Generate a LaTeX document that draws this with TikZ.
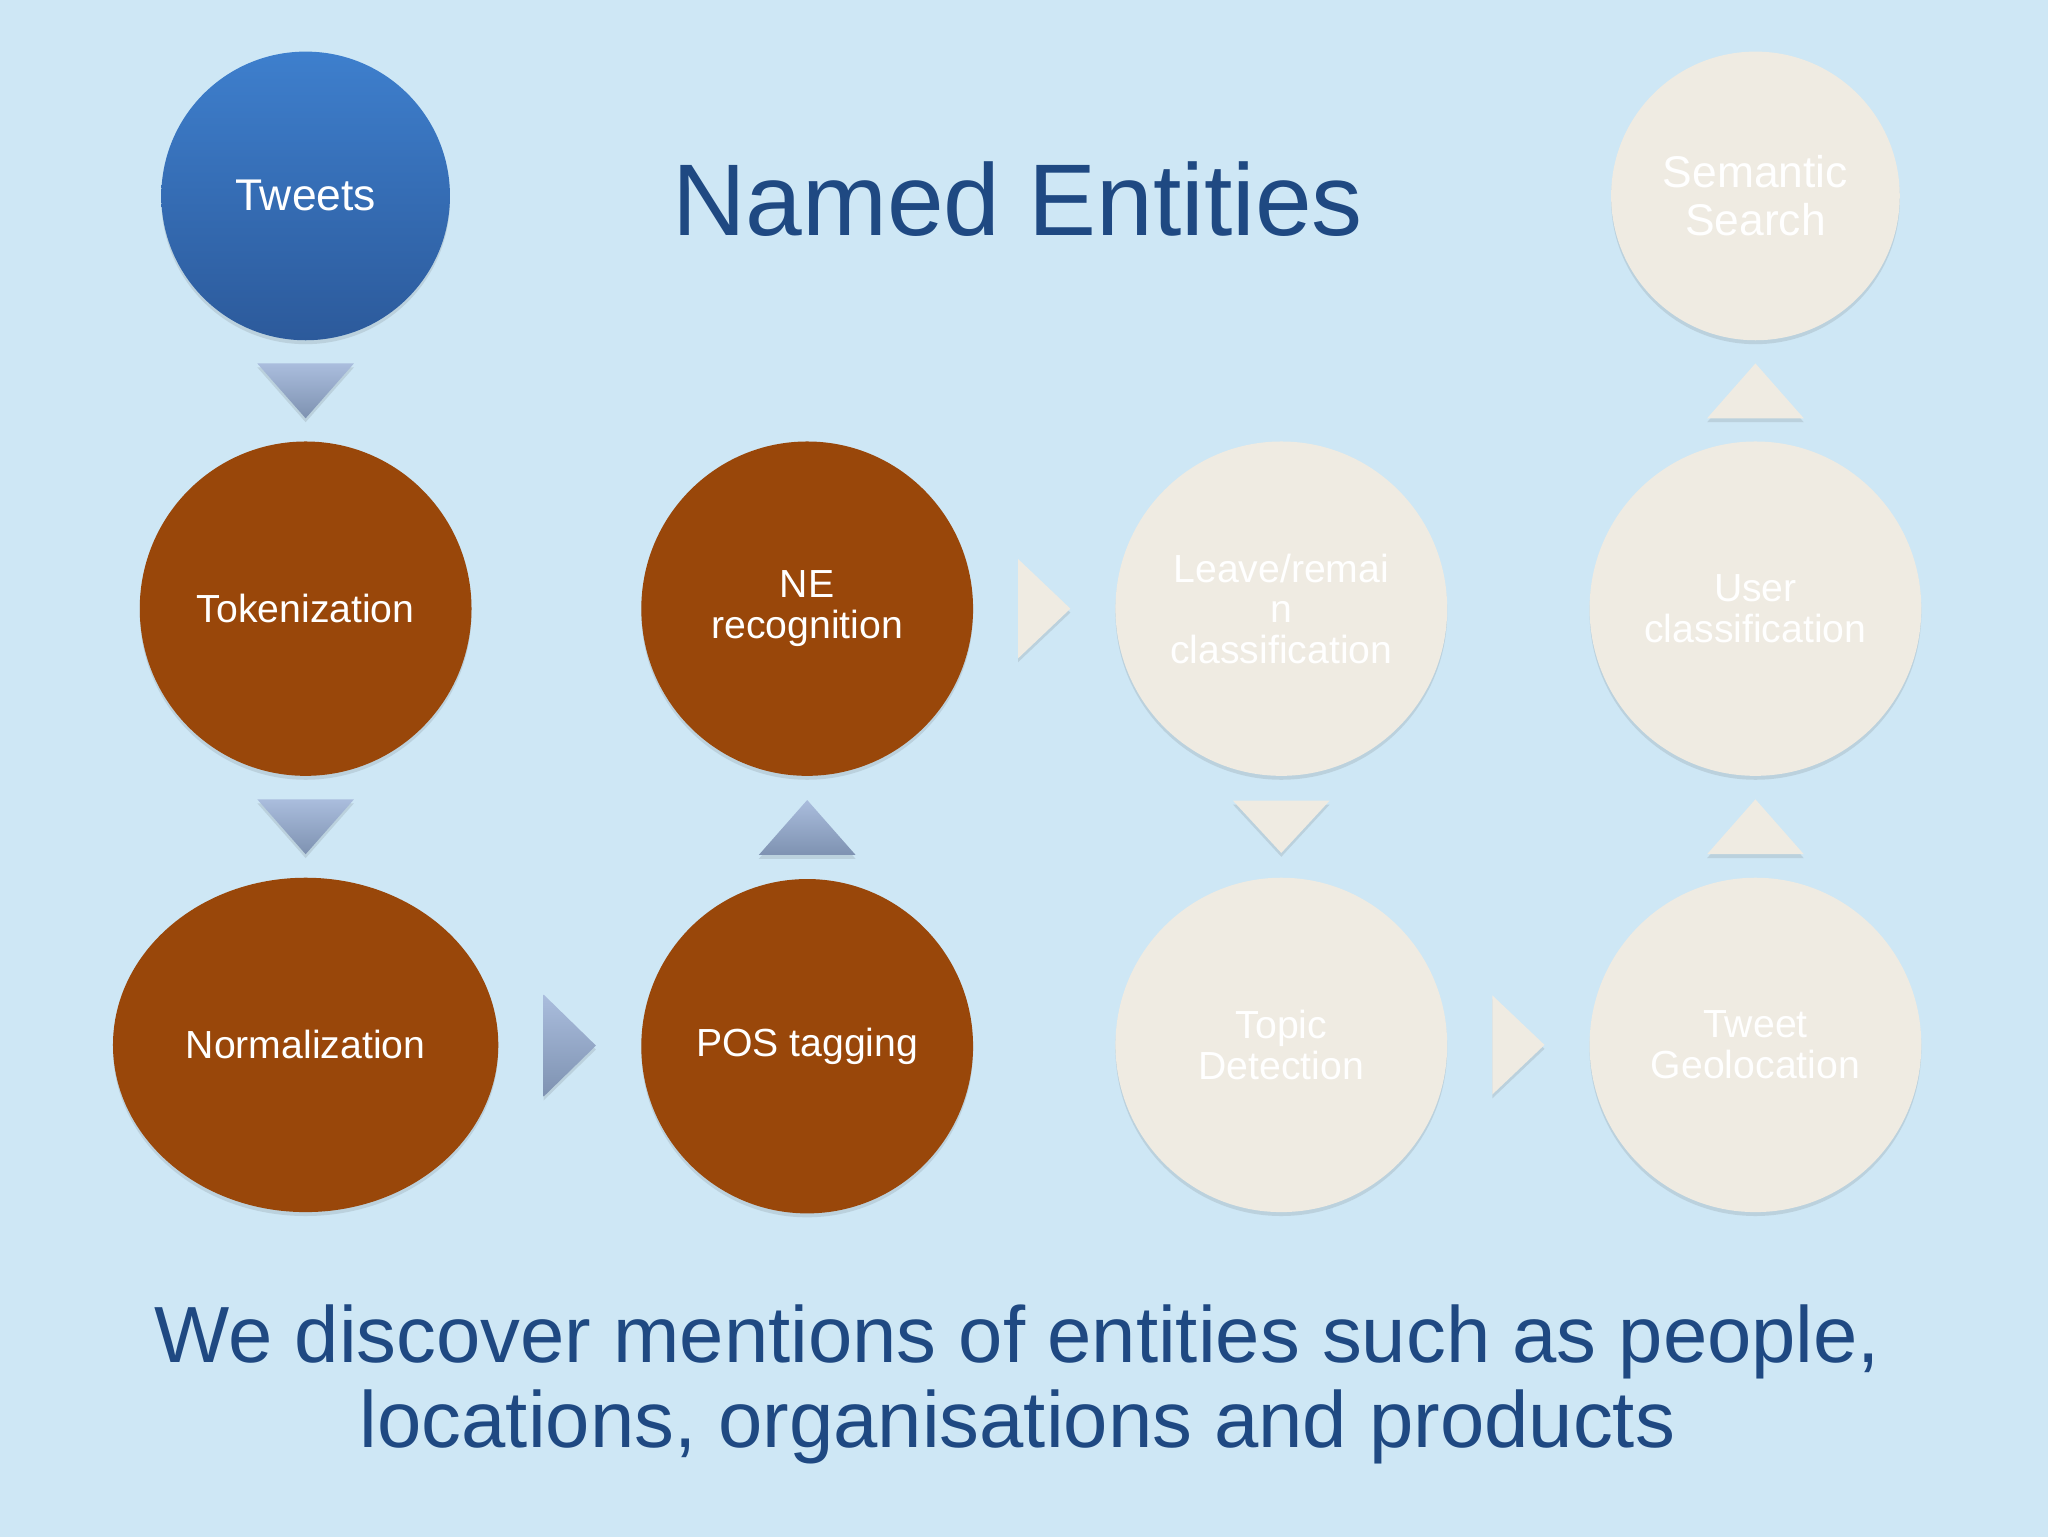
\documentclass[tikz,border=0pt]{standalone}
\usepackage{fontspec}
\setmainfont{Liberation Sans}
\usetikzlibrary{shapes.geometric,shadows,calc}
\definecolor{bg}{RGB}{206,231,245}
\definecolor{brownfill}{RGB}{153,71,10}
\definecolor{creamfill}{RGB}{239,235,226}
\definecolor{arrtop}{RGB}{170,189,221}
\definecolor{arrbot}{RGB}{126,146,177}
\definecolor{tweettop}{RGB}{62,127,205}
\definecolor{tweetbot}{RGB}{44,90,155}
\definecolor{titleblue}{RGB}{31,73,130}
\tikzset{
  x=1pt, y=-1pt,
  softshadow/.style={drop shadow={shadow xshift=0pt, shadow yshift=-3pt, opacity=0.14, fill=black!70}},
  bubble/.style={ellipse, inner sep=0pt, align=center, text=white, softshadow},
  topbubble/.style={bubble, minimum width=221, minimum height=221,
     font=\fontsize{34}{37}\selectfont},
  midbubble/.style={bubble, minimum width=254, minimum height=256,
     font=\fontsize{30}{31}\selectfont},
  brownb/.style={fill=brownfill},
  creamb/.style={fill=creamfill},
  bluearr/.style={top color=arrtop, bottom color=arrbot, draw=none, softshadow},
  creamarr/.style={fill=creamfill, draw=none, softshadow},
}
\begin{document}
\begin{tikzpicture}
\useasboundingbox (0,0) rectangle (1568,1176);
\fill[bg] (-6,-6) rectangle (1574,1182);

% nodes
\node[topbubble, top color=tweettop, bottom color=tweetbot] (tweets) at (234,150) {Tweets};
\node[midbubble, brownb] (tok) at (234,466) {Tokenization};
\node[midbubble, brownb, minimum width=295] (norm) at (234,800) {Normalization};
\node[midbubble, brownb] (pos) at (618,801) {POS tagging};
\node[midbubble, brownb] (ner) at (618,466) {NE\\recognition};
\node[midbubble, creamb] (leave) at (981,466) {Leave/remai\\n\\classification};
\node[midbubble, creamb] (topic) at (981,800) {Topic\\Detection};
\node[midbubble, creamb] (geo) at (1344,800) {Tweet\\Geolocation};
\node[midbubble, creamb] (user) at (1344,466) {User\\classification};
\node[topbubble, creamb] (sem) at (1344,150) {Semantic\\Search};

% title and caption
\node[anchor=base, text=titleblue, font=\fontsize{78}{80}\selectfont] (title) at (779,180) {Named Entities};
\node[align=center, text=titleblue, font=\fontsize{61}{65}\selectfont] (caption) at (779,1060)
  {We discover mentions of entities such as people,\\locations, organisations and products};

% arrow markers between nodes
\coordinate (a1) at ($(tweets.south)!0.5!(tok.north)$);
\coordinate (a2) at ($(tok.south)!0.5!(norm.north)$);
\coordinate (a3) at ($(norm.east)!0.5!(pos.west)$);
\coordinate (a4) at ($(pos.north)!0.5!(ner.south)$);
\coordinate (a5) at ($(ner.east)!0.5!(leave.west)$);
\coordinate (a6) at ($(leave.south)!0.5!(topic.north)$);
\coordinate (a7) at ($(topic.east)!0.5!(geo.west)$);
\coordinate (a8) at ($(geo.north)!0.5!(user.south)$);
\coordinate (a9) at ($(user.north)!0.5!(sem.south)$);

% down (blue)
\path[bluearr] ($(a1)+(-37,-21)$) -- ($(a1)+(37,-21)$) -- ($(a1)+(0,21)$) -- cycle;
\path[bluearr] ($(a2)+(-37,-21)$) -- ($(a2)+(37,-21)$) -- ($(a2)+(0,21)$) -- cycle;
% right (blue)
\path[bluearr] ($(a3)+(-20,-39)$) -- ($(a3)+(20,0)$) -- ($(a3)+(-20,39)$) -- cycle;
% up (blue)
\path[bluearr] ($(a4)+(-37,21)$) -- ($(a4)+(37,21)$) -- ($(a4)+(0,-21)$) -- cycle;
% cream
\path[creamarr] ($(a5)+(-20,-38)$) -- ($(a5)+(20,0)$) -- ($(a5)+(-20,38)$) -- cycle;
\path[creamarr] ($(a6)+(-37,-20)$) -- ($(a6)+(37,-20)$) -- ($(a6)+(0,20)$) -- cycle;
\path[creamarr] ($(a7)+(-20,-38)$) -- ($(a7)+(20,0)$) -- ($(a7)+(-20,38)$) -- cycle;
\path[creamarr] ($(a8)+(-37,21)$) -- ($(a8)+(37,21)$) -- ($(a8)+(0,-21)$) -- cycle;
\path[creamarr] ($(a9)+(-37,21)$) -- ($(a9)+(37,21)$) -- ($(a9)+(0,-21)$) -- cycle;
\end{tikzpicture}
\end{document}
